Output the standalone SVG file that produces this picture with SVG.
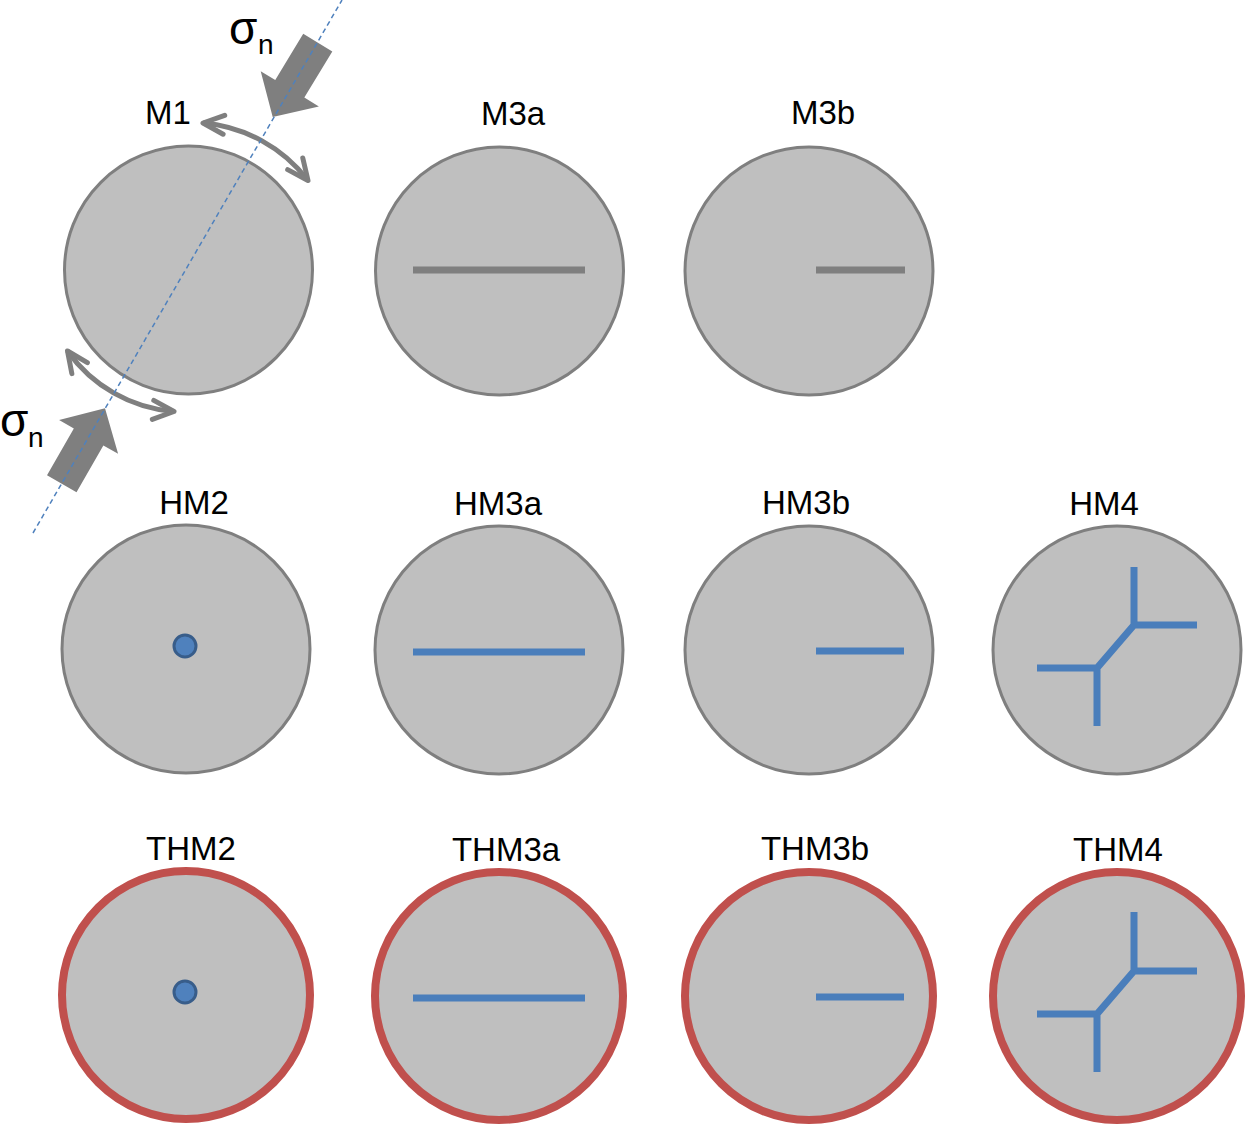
<svg xmlns="http://www.w3.org/2000/svg" width="1245" height="1126" viewBox="0 0 1245 1126">
<style>
.lbl{font-family:"Liberation Sans",Arial,sans-serif;font-size:33px;fill:#000;text-anchor:middle}
.sig{font-family:"Liberation Sans",Arial,sans-serif;fill:#000}
.c{fill:#BFBFBF;stroke:#7F7F7F;stroke-width:3}
.t{fill:#BFBFBF;stroke:#C0504D;stroke-width:8}
.gl{stroke:#7F7F7F;stroke-width:7;fill:none}
.bl{stroke:#4A7EBB;stroke-width:7;fill:none}
.dot{fill:#4F81BD;stroke:#385D8A;stroke-width:3}
.arc{fill:none;stroke:#7F7F7F;stroke-width:5}
.big{fill:#7F7F7F}
</style>
<defs>
<marker id="chev" markerUnits="userSpaceOnUse" markerWidth="40" markerHeight="40" viewBox="-28 -20 34 40" refX="0" refY="0" orient="auto-start-reverse">
<path d="M-21,-9.5 L0,0 L-21,9.5" fill="none" stroke="#7F7F7F" stroke-width="5" stroke-linecap="round" stroke-linejoin="round"/>
</marker>
<polygon id="bigarrow" points="-87,-17 -33,-17 -33,-34 0,0 -33,34 -33,17 -87,17"/>
</defs>

<g id="M1">
<circle class="c" cx="188.5" cy="270" r="124"/>
<text class="lbl" x="168" y="124">M1</text>
</g>
<g id="M3a">
<circle class="c" cx="499.5" cy="271" r="124"/>
<line class="gl" x1="413" y1="270" x2="585" y2="270"/>
<text class="lbl" x="513" y="125">M3a</text>
</g>
<g id="M3b">
<circle class="c" cx="809" cy="271" r="124"/>
<line class="gl" x1="816" y1="270" x2="905" y2="270"/>
<text class="lbl" x="823" y="124">M3b</text>
</g>

<g id="HM2">
<circle class="c" cx="186" cy="649" r="124"/>
<circle class="dot" cx="185" cy="646" r="11"/>
<text class="lbl" x="194" y="514">HM2</text>
</g>
<g id="HM3a">
<circle class="c" cx="499" cy="650" r="124"/>
<line class="bl" x1="413" y1="652" x2="585" y2="652"/>
<text class="lbl" x="498" y="515">HM3a</text>
</g>
<g id="HM3b">
<circle class="c" cx="809" cy="650" r="124"/>
<line class="bl" x1="816" y1="651" x2="904" y2="651"/>
<text class="lbl" x="806" y="514">HM3b</text>
</g>
<g id="HM4">
<circle class="c" cx="1117" cy="650" r="124"/>
<path class="bl" d="M1134,567 V625 H1197 M1134,625 L1097,668 H1037 M1097,668 V726"/>
<text class="lbl" x="1104" y="515">HM4</text>
</g>

<g id="THM2">
<circle class="t" cx="186" cy="995" r="124"/>
<circle class="dot" cx="185" cy="992" r="11"/>
<text class="lbl" x="191" y="860">THM2</text>
</g>
<g id="THM3a">
<circle class="t" cx="499" cy="996" r="124"/>
<line class="bl" x1="413" y1="998" x2="585" y2="998"/>
<text class="lbl" x="506" y="861">THM3a</text>
</g>
<g id="THM3b">
<circle class="t" cx="809" cy="996" r="124"/>
<line class="bl" x1="816" y1="997" x2="904" y2="997"/>
<text class="lbl" x="815" y="860">THM3b</text>
</g>
<g id="THM4">
<circle class="t" cx="1117" cy="996" r="124"/>
<path class="bl" d="M1134,912 V971 H1197 M1134,971 L1097,1014 H1037 M1097,1014 V1072"/>
<text class="lbl" x="1118" y="861">THM4</text>
</g>

<g id="connectors">
<path class="arc" d="M203,123 A148,148 0 0 1 308,180.5" marker-start="url(#chev)" marker-end="url(#chev)"/>
<path class="arc" d="M67.5,351 A144,144 0 0 0 174,411.5" marker-start="url(#chev)" marker-end="url(#chev)"/>
<use href="#bigarrow" class="big" transform="translate(272.7,117) rotate(121.2)"/>
<use href="#bigarrow" class="big" transform="translate(105,408.3) rotate(-60.2)"/>
<line x1="33" y1="533" x2="342" y2="0" stroke="#4F81BD" stroke-width="1.5" stroke-dasharray="5,3.5"/>
</g>

<g id="sigma-top">
<text class="sig" x="229" y="44" font-size="46">σ</text>
<text class="sig" x="258" y="54" font-size="28">n</text>
</g>
<g id="sigma-bottom">
<text class="sig" x="0" y="436" font-size="46">σ</text>
<text class="sig" x="28" y="447" font-size="28">n</text>
</g>
</svg>
